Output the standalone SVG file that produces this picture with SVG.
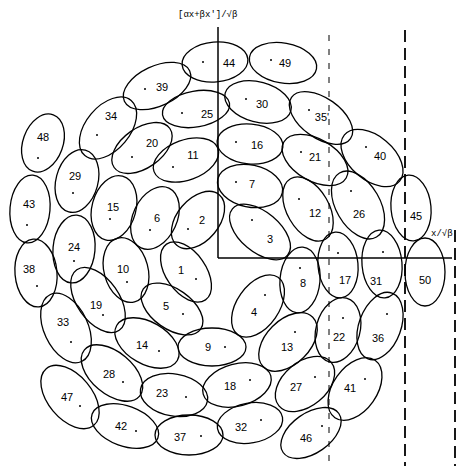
<svg xmlns="http://www.w3.org/2000/svg" width="457" height="466" viewBox="0 0 457 466">
<style>
.e{fill:none;stroke:#000;stroke-width:1.3}
.t{font-family:"Liberation Sans",Arial,sans-serif;font-size:11px;fill:#000;text-anchor:middle}
.d{fill:#000}
.ax{stroke:#000;stroke-width:1.5;fill:none}
.dl{stroke:#000;stroke-width:1;stroke-dasharray:6 8;fill:none}
.dh{stroke:#000;stroke-width:1.8;stroke-dasharray:12 6;fill:none}
.lab{font-family:"Liberation Mono",monospace;font-size:9px;fill:#000}
</style>
<rect width="457" height="466" fill="#fff"/>
<g id="connectors">
<line class="ax" x1="218" y1="27" x2="218" y2="258"/>
<line class="ax" x1="218" y1="258" x2="452" y2="258"/>
<line class="dl" x1="329" y1="35" x2="329" y2="466"/>
<line class="dh" x1="405" y1="30" x2="405" y2="466"/>
<line class="dh" x1="455" y1="230" x2="455" y2="466"/>
<text class="lab" x="178" y="17">[αx+βx']/√β</text>
<text class="lab" x="431" y="236">x/√β</text>
</g>
<g id="n1"><ellipse class="e" cx="186" cy="272" rx="34" ry="20" transform="rotate(55 186 272)"/><text class="t" x="181" y="274">1</text><circle class="d" cx="196" cy="279" r="1"/></g>
<g id="n2"><ellipse class="e" cx="198" cy="220" rx="33" ry="21" transform="rotate(-50 198 220)"/><text class="t" x="202" y="224">2</text><circle class="d" cx="188" cy="229" r="1"/></g>
<g id="n3"><ellipse class="e" cx="260" cy="232" rx="36" ry="20" transform="rotate(40 260 232)"/><text class="t" x="270" y="243">3</text><circle class="d" cx="252" cy="220" r="1"/></g>
<g id="n4"><ellipse class="e" cx="258" cy="306" rx="35" ry="21" transform="rotate(-55 258 306)"/><text class="t" x="254" y="316">4</text><circle class="d" cx="265" cy="295" r="1"/></g>
<g id="n5"><ellipse class="e" cx="172" cy="309" rx="35" ry="20" transform="rotate(35 172 309)"/><text class="t" x="166" y="310">5</text><circle class="d" cx="183" cy="314" r="1"/></g>
<g id="n6"><ellipse class="e" cx="155" cy="218" rx="22" ry="33" transform="rotate(25 155 218)"/><text class="t" x="157" y="222">6</text><circle class="d" cx="150" cy="230" r="1"/></g>
<g id="n7"><ellipse class="e" cx="250" cy="186" rx="33" ry="21" transform="rotate(12 250 186)"/><text class="t" x="252" y="188">7</text><circle class="d" cx="236" cy="182" r="1"/></g>
<g id="n8"><ellipse class="e" cx="300" cy="280" rx="20" ry="33" transform="rotate(5 300 280)"/><text class="t" x="303" y="287">8</text><circle class="d" cx="300" cy="268" r="1"/></g>
<g id="n9"><ellipse class="e" cx="212" cy="347" rx="34" ry="19"/><text class="t" x="208" y="351">9</text><circle class="d" cx="225" cy="347" r="1"/></g>
<g id="n10"><ellipse class="e" cx="126" cy="270" rx="22" ry="33" transform="rotate(-15 126 270)"/><text class="t" x="123" y="273">10</text><circle class="d" cx="127" cy="282" r="1"/></g>
<g id="n11"><ellipse class="e" cx="186" cy="160" rx="34" ry="20" transform="rotate(-20 186 160)"/><text class="t" x="193" y="159">11</text><circle class="d" cx="173" cy="167" r="1"/></g>
<g id="n12"><ellipse class="e" cx="308" cy="209" rx="35" ry="21" transform="rotate(60 308 209)"/><text class="t" x="315" y="217">12</text><circle class="d" cx="299" cy="199" r="1"/></g>
<g id="n13"><ellipse class="e" cx="288" cy="342" rx="35" ry="22" transform="rotate(-45 288 342)"/><text class="t" x="287" y="351">13</text><circle class="d" cx="295" cy="332" r="1"/></g>
<g id="n14"><ellipse class="e" cx="147" cy="343" rx="35" ry="21" transform="rotate(30 147 343)"/><text class="t" x="142" y="349">14</text><circle class="d" cx="159" cy="351" r="1"/></g>
<g id="n15"><ellipse class="e" cx="114" cy="208" rx="22" ry="33" transform="rotate(15 114 208)"/><text class="t" x="113" y="211">15</text><circle class="d" cx="110" cy="219" r="1"/></g>
<g id="n16"><ellipse class="e" cx="250" cy="144" rx="33" ry="20" transform="rotate(5 250 144)"/><text class="t" x="257" y="149">16</text><circle class="d" cx="236" cy="142" r="1"/></g>
<g id="n17"><ellipse class="e" cx="338" cy="265" rx="20" ry="33" transform="rotate(-5 338 265)"/><text class="t" x="345" y="284">17</text><circle class="d" cx="338" cy="253" r="1"/></g>
<g id="n18"><ellipse class="e" cx="237" cy="385" rx="35" ry="21" transform="rotate(-15 237 385)"/><text class="t" x="230" y="390">18</text><circle class="d" cx="250" cy="380" r="1"/></g>
<g id="n19"><ellipse class="e" cx="98" cy="300" rx="37" ry="21" transform="rotate(55 98 300)"/><text class="t" x="96" y="309">19</text><circle class="d" cx="103" cy="315" r="1"/></g>
<g id="n20"><ellipse class="e" cx="142" cy="148" rx="34" ry="20" transform="rotate(-35 142 148)"/><text class="t" x="152" y="147">20</text><circle class="d" cx="132" cy="157" r="1"/></g>
<g id="n21"><ellipse class="e" cx="315" cy="160" rx="36" ry="21" transform="rotate(30 315 160)"/><text class="t" x="315" y="161">21</text><circle class="d" cx="301" cy="152" r="1"/></g>
<g id="n22"><ellipse class="e" cx="338" cy="330" rx="22" ry="33" transform="rotate(15 338 330)"/><text class="t" x="339" y="341">22</text><circle class="d" cx="343" cy="318" r="1"/></g>
<g id="n23"><ellipse class="e" cx="174" cy="395" rx="34" ry="21" transform="rotate(10 174 395)"/><text class="t" x="162" y="397">23</text><circle class="d" cx="186" cy="397" r="1"/></g>
<g id="n24"><ellipse class="e" cx="74" cy="249" rx="21" ry="34" transform="rotate(5 74 249)"/><text class="t" x="74" y="251">24</text><circle class="d" cx="74" cy="261" r="1"/></g>
<g id="n25"><ellipse class="e" cx="196" cy="109" rx="34" ry="18" transform="rotate(-10 196 109)"/><text class="t" x="207" y="118">25</text><circle class="d" cx="182" cy="113" r="1"/></g>
<g id="n26"><ellipse class="e" cx="358" cy="205" rx="37" ry="22" transform="rotate(60 358 205)"/><text class="t" x="359" y="218">26</text><circle class="d" cx="351" cy="191" r="1"/></g>
<g id="n27"><ellipse class="e" cx="305" cy="384" rx="34" ry="22" transform="rotate(-40 305 384)"/><text class="t" x="296" y="391">27</text><circle class="d" cx="315" cy="377" r="1"/></g>
<g id="n28"><ellipse class="e" cx="112" cy="373" rx="36" ry="21" transform="rotate(40 112 373)"/><text class="t" x="109" y="378">28</text><circle class="d" cx="123" cy="382" r="1"/></g>
<g id="n29"><ellipse class="e" cx="77" cy="181" rx="21" ry="32" transform="rotate(15 77 181)"/><text class="t" x="75" y="180">29</text><circle class="d" cx="73" cy="193" r="1"/></g>
<g id="n30"><ellipse class="e" cx="258" cy="102" rx="34" ry="20" transform="rotate(15 258 102)"/><text class="t" x="262" y="108">30</text><circle class="d" cx="246" cy="99" r="1"/></g>
<g id="n31"><ellipse class="e" cx="382" cy="264" rx="20" ry="34" transform="rotate(-5 382 264)"/><text class="t" x="376" y="285">31</text><circle class="d" cx="383" cy="252" r="1"/></g>
<g id="n32"><ellipse class="e" cx="250" cy="423" rx="33" ry="20" transform="rotate(-10 250 423)"/><text class="t" x="241" y="431">32</text><circle class="d" cx="261" cy="420" r="1"/></g>
<g id="n33"><ellipse class="e" cx="66" cy="328" rx="37" ry="22" transform="rotate(65 66 328)"/><text class="t" x="63" y="326">33</text><circle class="d" cx="71" cy="342" r="1"/></g>
<g id="n34"><ellipse class="e" cx="108" cy="128" rx="36" ry="22" transform="rotate(-50 108 128)"/><text class="t" x="111" y="120">34</text><circle class="d" cx="97" cy="135" r="1"/></g>
<g id="n35"><ellipse class="e" cx="321" cy="118" rx="36" ry="20" transform="rotate(35 321 118)"/><text class="t" x="322" y="121">35'</text><circle class="d" cx="309" cy="110" r="1"/></g>
<g id="n36"><ellipse class="e" cx="380" cy="326" rx="21" ry="35" transform="rotate(20 380 326)"/><text class="t" x="378" y="342">36</text><circle class="d" cx="387" cy="314" r="1"/></g>
<g id="n37"><ellipse class="e" cx="189" cy="435" rx="34" ry="20"/><text class="t" x="180" y="441">37</text><circle class="d" cx="201" cy="436" r="1"/></g>
<g id="n38"><ellipse class="e" cx="36" cy="273" rx="21" ry="34" transform="rotate(-5 36 273)"/><text class="t" x="29" y="273">38</text><circle class="d" cx="37" cy="286" r="1"/></g>
<g id="n39"><ellipse class="e" cx="157" cy="86" rx="36" ry="20" transform="rotate(-25 157 86)"/><text class="t" x="162" y="91">39</text><circle class="d" cx="145" cy="89" r="1"/></g>
<g id="n40"><ellipse class="e" cx="372" cy="158" rx="36" ry="22" transform="rotate(40 372 158)"/><text class="t" x="380" y="160">40</text><circle class="d" cx="366" cy="147" r="1"/></g>
<g id="n41"><ellipse class="e" cx="355" cy="389" rx="35" ry="22" transform="rotate(-55 355 389)"/><text class="t" x="350" y="392">41</text><circle class="d" cx="365" cy="379" r="1"/></g>
<g id="n42"><ellipse class="e" cx="125" cy="426" rx="35" ry="20" transform="rotate(20 125 426)"/><text class="t" x="121" y="430">42</text><circle class="d" cx="136" cy="431" r="1"/></g>
<g id="n43"><ellipse class="e" cx="30" cy="209" rx="20" ry="34" transform="rotate(5 30 209)"/><text class="t" x="29" y="208">43</text><circle class="d" cx="27" cy="225" r="1"/></g>
<g id="n44"><ellipse class="e" cx="215" cy="62" rx="33" ry="20" transform="rotate(-5 215 62)"/><text class="t" x="229" y="67">44</text><circle class="d" cx="203" cy="62" r="1"/></g>
<g id="n45"><ellipse class="e" cx="411" cy="208" rx="20" ry="33" transform="rotate(-5 411 208)"/><text class="t" x="416" y="220">45</text></g>
<g id="n46"><ellipse class="e" cx="311" cy="433" rx="34" ry="20" transform="rotate(-35 311 433)"/><text class="t" x="306" y="442">46</text><circle class="d" cx="322" cy="426" r="1"/></g>
<g id="n47"><ellipse class="e" cx="70" cy="397" rx="37" ry="22" transform="rotate(50 70 397)"/><text class="t" x="67" y="401">47</text><circle class="d" cx="80" cy="406" r="1"/></g>
<g id="n48"><ellipse class="e" cx="43" cy="143" rx="20" ry="30" transform="rotate(20 43 143)"/><text class="t" x="43" y="141">48</text><circle class="d" cx="38" cy="158" r="1"/></g>
<g id="n49"><ellipse class="e" cx="283" cy="63" rx="34" ry="20" transform="rotate(10 283 63)"/><text class="t" x="285" y="67">49</text><circle class="d" cx="271" cy="60" r="1"/></g>
<g id="n50"><ellipse class="e" cx="425" cy="272" rx="20" ry="34"/><text class="t" x="425" y="284">50</text></g>
</svg>
